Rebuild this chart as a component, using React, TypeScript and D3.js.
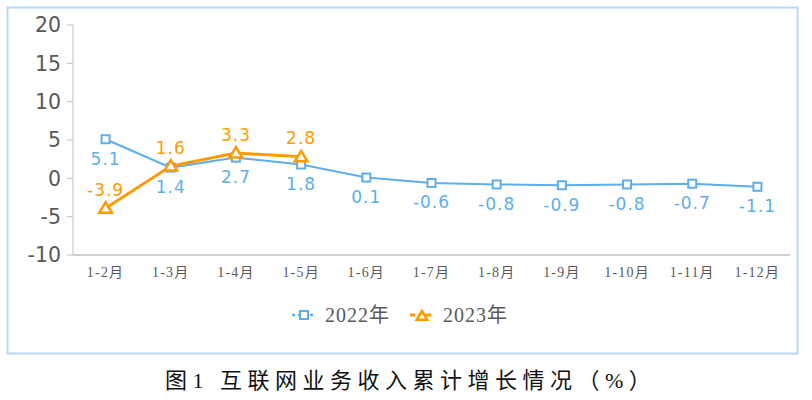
import React from "react";
import * as d3 from "d3";

const categories = ["1-2月", "1-3月", "1-4月", "1-5月", "1-6月", "1-7月", "1-8月", "1-9月", "1-10月", "1-11月", "1-12月"];
const series2022 = [5.1, 1.4, 2.7, 1.8, 0.1, -0.6, -0.8, -0.9, -0.8, -0.7, -1.1];
const series2023 = [-3.9, 1.6, 3.3, 2.8];
const yTicks = [20, 15, 10, 5, 0, -5, -10];
const legendLabels = ["2022年", "2023年"];
const title = "图1 互联网业务收入累计增长情况（%）";

const BLUE = "#5eaeeb";
const ORANGE = "#ff9a00";
const SERIF = "'Liberation Serif', 'Noto Sans CJK SC', serif";
const SANS = "'DejaVu Sans', Verdana, sans-serif";

export default function App() {
  const left = 73, right = 790, top = 25, bottom = 255;
  const x = d3.scaleBand().domain(categories).range([left, right]);
  const y = d3.scaleLinear().domain([-10, 20]).range([bottom, top]);
  const cx = (i: number) => (x(categories[i]) as number) + x.bandwidth() / 2;
  const line = d3.line<number>().x((_, i) => cx(i)).y((d) => y(d));
  const tri = (px: number, py: number, s: number) =>
    `M${px},${py - s}L${px + s * 1.05},${py + s * 0.75}L${px - s * 1.05},${py + s * 0.75}Z`;

  return (
    <svg width={812} height={400} style={{ position: "absolute", left: 0, top: 0, background: "#fff" }}>
      <rect x={7.5} y={7.5} width={790} height={346} fill="#fff" stroke="#b7d8f7" strokeWidth={2} />
      <line x1={left} x2={left} y1={top} y2={bottom} stroke="#bfbfbf" strokeWidth={1} />
      <line x1={left} x2={right} y1={bottom} y2={bottom} stroke="#bfbfbf" strokeWidth={1.5} />
      {yTicks.map((t) => (
        <g key={t}>
          <line x1={left - 6} x2={left} y1={y(t)} y2={y(t)} stroke="#bfbfbf" />
          <text x={left - 12} y={y(t)} dy="0.36em" textAnchor="end" fontFamily={SANS} fontSize={20.5} fill="#595959">
            {t}
          </text>
        </g>
      ))}
      {categories.map((c, i) => (
        <text key={c} x={cx(i)} y={bottom + 22} textAnchor="middle" fontFamily={SERIF} fontSize={14} letterSpacing={1.2} fill="#595959">
          {c}
        </text>
      ))}
      <path d={line(series2022) as string} fill="none" stroke={BLUE} strokeWidth={2} />
      {series2022.map((v, i) => (
        <g key={"b" + i}>
          <rect x={cx(i) - 4} y={y(v) - 4} width={8} height={8} fill="#fff" stroke={BLUE} strokeWidth={2} />
          <text x={cx(i)} y={y(v) + 25.5} textAnchor="middle" fontFamily={SANS} fontSize={17} letterSpacing={1} fill={BLUE}>
            {v.toFixed(1)}
          </text>
        </g>
      ))}
      <path d={line(series2023) as string} fill="none" stroke={ORANGE} strokeWidth={3} />
      {series2023.map((v, i) => (
        <g key={"o" + i}>
          <path d={tri(cx(i), y(v), 6)} fill="#fff" stroke={ORANGE} strokeWidth={2.5} />
          <text x={cx(i)} y={y(v) - 12.5} textAnchor="middle" fontFamily={SANS} fontSize={17} letterSpacing={1} fill={ORANGE}>
            {v.toFixed(1)}
          </text>
        </g>
      ))}
      <g>
        <line x1={292} x2={316} y1={315} y2={315} stroke={BLUE} strokeWidth={2.5} strokeDasharray="3,3" />
        <rect x={300} y={311} width={8} height={8} fill="#fff" stroke={BLUE} strokeWidth={2} />
        <text x={325} y={315} dy="0.35em" fontFamily={SERIF} fontSize={20} letterSpacing={1} fill="#595959">
          {legendLabels[0]}
        </text>
        <line x1={410} x2={434} y1={315} y2={315} stroke={ORANGE} strokeWidth={3} strokeDasharray="5,3" />
        <path d={tri(422, 316, 5)} fill="#fff" stroke={ORANGE} strokeWidth={2.5} />
        <text x={443} y={315} dy="0.35em" fontFamily={SERIF} fontSize={20} letterSpacing={1} fill="#595959">
          {legendLabels[1]}
        </text>
      </g>
      <text x={165} y={380} dy="0.35em" textAnchor="start" fontFamily={SERIF} fontSize={22} letterSpacing={5.5} fill="#111">
        {title}
      </text>
    </svg>
  );
}
